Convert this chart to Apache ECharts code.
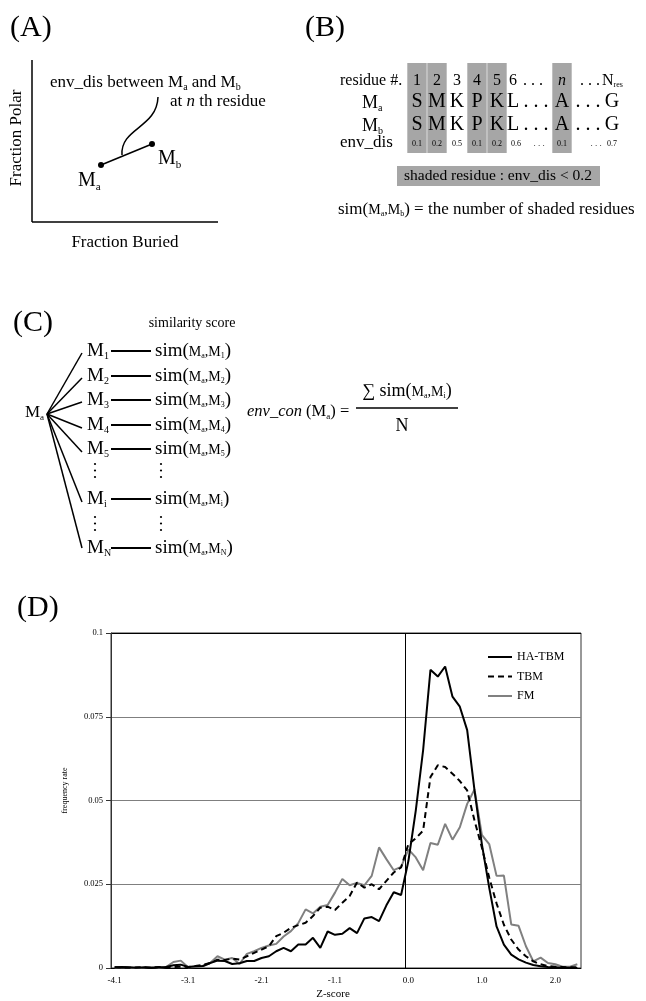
<!DOCTYPE html>
<html>
<head>
<meta charset="utf-8">
<title>env_con figure</title>
<script src="https://cdn.jsdelivr.net/npm/echarts@6.0.0/dist/echarts.min.js"></script>
<style>
  body { margin: 0; background: #fff; }
  #main { width: 646px; height: 1001px; }
</style>
</head>
<body>
<div id="main"></div>
<script>
// ---- panel (D) data ----
// z-score bins (only every 10th one is labelled on the axis)
const zScore = [
  '-4.1','-4.0','-3.9','-3.8','-3.7','-3.6','-3.5','-3.4','-3.3','-3.2',
  '-3.1','-3.0','-2.9','-2.8','-2.7','-2.6','-2.5','-2.4','-2.3','-2.2',
  '-2.1','-2.0','-1.9','-1.8','-1.7','-1.6','-1.5','-1.4','-1.3','-1.2',
  '-1.1','-1.0','-0.9','-0.8','-0.7','-0.6','-0.5','-0.4','-0.3','-0.2',
  '0.0','0.1','0.2','0.3','0.4','0.5','0.6','0.7','0.8','0.9',
  '1.0','1.1','1.2','1.3','1.4','1.5','1.6','1.7','1.8','1.9',
  '2.0','2.1','2.2','2.3'
];
const haTbm = [
  0.0002,0.0003,0.0002,0.0001,0.0002,0.0000,0.0002,0.0003,0.0008,0.0010,
  0.0003,0.0005,0.0006,0.0015,0.0022,0.0021,0.0012,0.0014,0.0021,0.0021,
  0.0030,0.0035,0.0050,0.0060,0.0050,0.0070,0.0070,0.0090,0.0060,0.0109,
  0.0099,0.0102,0.0119,0.0104,0.0148,0.0152,0.0140,0.0187,0.0226,0.0218,
  0.0320,0.0470,0.0650,0.0890,0.0870,0.0900,0.0810,0.0780,0.0710,0.0530,
  0.0370,0.0240,0.0124,0.0070,0.0040,0.0026,0.0016,0.0009,0.0005,0.0003,
  0.0002,0.0001,0.0001,0.0000
];
const tbm = [
  0.0002,0.0002,0.0001,0.0002,0.0002,0.0001,0.0003,0.0002,0.0003,0.0004,
  0.0003,0.0006,0.0009,0.0015,0.0025,0.0024,0.0028,0.0025,0.0035,0.0045,
  0.0055,0.0065,0.0095,0.0105,0.0120,0.0128,0.0135,0.0155,0.0180,0.0183,
  0.0173,0.0195,0.0215,0.0255,0.0240,0.0250,0.0235,0.0260,0.0285,0.0300,
  0.0370,0.0387,0.0410,0.0570,0.0605,0.0600,0.0580,0.0558,0.0530,0.0440,
  0.0360,0.0270,0.0193,0.0129,0.0085,0.0055,0.0035,0.0020,0.0011,0.0006,
  0.0004,0.0003,0.0002,0.0002
];
const fm = [
  0.0001,0.0002,0.0001,0.0000,0.0001,0.0003,0.0001,0.0003,0.0018,0.0022,
  0.0002,0.0003,0.0005,0.0015,0.0035,0.0025,0.0030,0.0012,0.0042,0.0050,
  0.0060,0.0067,0.0072,0.0094,0.0110,0.0134,0.0175,0.0163,0.0183,0.0188,
  0.0225,0.0266,0.0247,0.0254,0.0247,0.0275,0.0360,0.0325,0.0292,0.0302,
  0.0354,0.0330,0.0292,0.0373,0.0368,0.0430,0.0383,0.0420,0.0490,0.0533,
  0.0397,0.0370,0.0275,0.0276,0.0130,0.0126,0.0065,0.0020,0.0031,0.0015,
  0.0011,0.0004,0.0004,0.0011
];
const yMax = 0.1;
const yStep = 0.025;

// ---- panel (B) alignment example ----
const resNo  = ['1', '2', '3', '4', '5', '6'];
const seqA   = ['S', 'M', 'K', 'P', 'K', 'L'];
const envDis = ['0.1', '0.2', '0.5', '0.1', '0.2', '0.6'];
const shadedCols = [0, 1, 3, 4];

// ---- panel (C) members ----
const members = ['1', '2', '3', '4', '5', 'i', 'N'];

const SERIF = '"Liberation Serif", "Times New Roman", serif';
const ctx = document.createElement('canvas').getContext('2d');
const g = [];

function fontOf(size, italic) {
  return (italic ? 'italic ' : '') + size + 'px ' + SERIF;
}

// writes a line of text runs on baseline y, 's' = subscript, 'i' = italic
function runs(x, y, parts, align) {
  const items = parts.map(p => {
    const f = fontOf(p[1], p[2] === 'i');
    ctx.font = f;
    return { text: p[0], font: f, size: p[1], sub: p[2] === 's', w: ctx.measureText(p[0]).width };
  });
  const total = items.reduce((s, it) => s + it.w, 0);
  let cx = align === 'center' ? x - total / 2 : (align === 'right' ? x - total : x);
  items.forEach(it => {
    const base = y + (it.sub ? Math.round(it.size * 0.3) : 0);
    g.push({
      type: 'text', x: cx, y: base - it.size * 0.34, silent: true,
      style: { text: it.text, font: it.font, fill: '#000', align: 'left', verticalAlign: 'middle' }
    });
    cx += it.w;
  });
}

function seg(x1, y1, x2, y2, w) {
  g.push({ type: 'line', silent: true, shape: { x1, y1, x2, y2 }, style: { stroke: '#000', lineWidth: w || 1.5 } });
}

function dot(cx, cy, r) {
  g.push({ type: 'circle', silent: true, shape: { cx, cy, r }, style: { fill: '#000' } });
}

// panel letters
runs(10, 38, [['(A)', 30]]);
runs(305, 38, [['(B)', 30]]);
runs(13, 333, [['(C)', 30]]);
runs(17, 618, [['(D)', 30]]);

// ---- (A) ----
seg(32, 60, 32, 222);
seg(32, 222, 218, 222);
g.push({
  type: 'text', x: 17, y: 138, rotation: Math.PI / 2, silent: true,
  style: { text: 'Fraction Polar', font: fontOf(17), fill: '#000', align: 'center', verticalAlign: 'middle' }
});
runs(125, 248, [['Fraction Buried', 17]], 'center');
seg(101, 165, 152, 144);
dot(101, 165, 3);
dot(152, 144, 3);
g.push({
  type: 'bezierCurve', silent: true,
  shape: { x1: 122, y1: 155, cpx1: 120, cpy1: 128, cpx2: 157, cpy2: 128, x2: 158, y2: 97 },
  style: { stroke: '#000', lineWidth: 1.5, fill: 'none' }
});
runs(50, 88, [['env_dis between M', 17], ['a', 10, 's'], [' and M', 17], ['b', 10, 's']]);
runs(170, 107, [['at ', 17], ['n', 17, 'i'], [' th residue', 17]]);
runs(78, 188, [['M', 20], ['a', 11, 's']]);
runs(158, 166, [['M', 20], ['b', 11, 's']]);

// ---- (B) ----
const colX = [417, 437, 457, 477, 497, 513];
const nX = 562, lastX = 612;
shadedCols.map(i => colX[i]).concat([nX]).forEach(cx => {
  g.push({ type: 'rect', silent: true, shape: { x: cx - 9.7, y: 63, width: 19.4, height: 90 }, style: { fill: '#a6a6a6' } });
});
runs(340, 86, [['residue #.', 16]]);
runs(362, 109, [['M', 18], ['a', 10, 's']]);
runs(362, 132, [['M', 18], ['b', 10, 's']]);
runs(340, 148, [['env_dis', 17]]);
resNo.forEach((t, i) => runs(colX[i], 86, [[t, 16]], 'center'));
runs(533, 86, [['. . .', 16]], 'center');
runs(nX, 86, [['n', 16, 'i']], 'center');
runs(590, 86, [['. . .', 16]], 'center');
runs(602, 86, [['N', 16], ['res', 8, 's']]);
[109, 132].forEach(by => {
  seqA.forEach((t, i) => runs(colX[i], by, [[t, 20]], 'center'));
  runs(536, by, [['. . .', 20]], 'center');
  runs(nX, by, [['A', 20]], 'center');
  runs(588, by, [['. . .', 20]], 'center');
  runs(lastX, by, [['G', 20]], 'center');
});
envDis.forEach((t, i) => runs(colX[i] + (i === 5 ? 3 : 0), 147, [[t, 8]], 'center'));
runs(539, 147, [['. . .', 9]], 'center');
runs(nX, 147, [['0.1', 8]], 'center');
runs(596, 147, [['. . .', 9]], 'center');
runs(lastX, 147, [['0.7', 8]], 'center');
g.push({ type: 'rect', silent: true, shape: { x: 397, y: 166, width: 203, height: 20 }, style: { fill: '#a6a6a6' } });
runs(498, 181, [['shaded residue : env_dis < 0.2', 15.5]], 'center');
runs(338, 215, [['sim(', 17], ['M', 14], ['a', 8, 's'], [',M', 14], ['b', 8, 's'], [') = the number of shaded residues', 17]]);

// ---- (C) ----
runs(192, 328, [['similarity score', 14]], 'center');
runs(25, 418, [['M', 17], ['a', 9, 's']]);
const labY = [357, 382, 406, 431, 455, 505, 554];
const fanY = [353, 378, 402, 428, 452, 502, 548];
members.forEach((m, k) => {
  seg(47, 414, 82, fanY[k]);
  runs(87, labY[k], [['M', 19], [m, 10, 's']]);
  seg(111, labY[k] - 6, 151, labY[k] - 6, 2);
  runs(155, labY[k], [['sim(', 19], ['M', 14], ['a', 8, 's'], [',M', 14], [m, 8, 's'], [')', 19]]);
});
[95, 161].forEach(cx => {
  [464, 470.5, 477, 517, 523.5, 530].forEach(cy => dot(cx, cy, 1.1));
});
runs(247, 417, [['env_con', 16.5, 'i'], [' (M', 16.5], ['a', 9, 's'], [') =', 16.5]]);
seg(356, 408, 458, 408);
runs(407, 397, [['\u2211 sim(', 18], ['M', 14], ['a', 8, 's'], [',M', 14], ['i', 8, 's'], [')', 18]], 'center');
runs(402, 432, [['N', 18]], 'center');

// ---- (D) chart ----
const zeroIdx = zScore.indexOf('0.0');
const chart = echarts.init(document.getElementById('main'), null, { renderer: 'canvas' });
const option = {
  animation: false,
  backgroundColor: '#fff',
  textStyle: { fontFamily: SERIF },
  grid: { left: 111, top: 633, width: 470, height: 339, show: true, borderColor: '#333', borderWidth: 1 },
  legend: {
    orient: 'vertical',
    left: 487,
    top: 651,
    padding: 0,
    itemWidth: 24,
    itemHeight: 12,
    itemGap: 7.5,
    itemStyle: { opacity: 0 },
    textStyle: { fontSize: 12, color: '#000', fontFamily: SERIF },
    data: ['HA-TBM', 'TBM', 'FM']
  },
  xAxis: [
    {
      type: 'category',
      data: zScore,
      boundaryGap: true,
      name: 'Z-score',
      nameLocation: 'middle',
      nameGap: 21,
      nameTextStyle: { fontSize: 11, color: '#000', fontFamily: SERIF, padding: [0, 26, 0, 0] },
      axisLine: { lineStyle: { color: '#000', width: 1 } },
      axisTick: { interval: 4, length: 5, lineStyle: { color: '#000' } },
      axisLabel: { interval: 9, fontSize: 9, color: '#000', margin: 8, fontFamily: SERIF },
      splitLine: { show: false }
    },
    {
      // bin-edge scale, only used to put the 0.0 line on the edge of its bin
      type: 'value', min: 0, max: zScore.length, show: false
    }
  ],
  yAxis: {
    type: 'value',
    min: 0,
    max: yMax,
    interval: yStep,
    name: 'frequency rate',
    nameLocation: 'middle',
    nameRotate: 90,
    nameGap: 42,
    nameTextStyle: { fontSize: 8, color: '#000', fontFamily: SERIF, padding: [0, 0, 0, 20] },
    axisLine: { show: true, lineStyle: { color: '#333', width: 1 } },
    axisTick: { show: true, length: 5, lineStyle: { color: '#333' } },
    axisLabel: { fontSize: 8.5, color: '#000', margin: 8, fontFamily: SERIF },
    splitLine: { lineStyle: { color: ['#7f7f7f', '#7f7f7f', '#7f7f7f', '#7f7f7f', '#000'], width: 1 } }
  },
  series: [
    {
      name: 'HA-TBM', type: 'line', data: haTbm, symbol: 'none', z: 3,
      lineStyle: { color: '#000', width: 2 }, itemStyle: { color: '#000' }
    },
    {
      name: 'TBM', type: 'line', data: tbm, symbol: 'none', z: 3,
      lineStyle: { color: '#000', width: 2, type: [6, 4] }, itemStyle: { color: '#000' }
    },
    {
      name: 'FM', type: 'line', data: fm, symbol: 'none', z: 2,
      lineStyle: { color: '#808080', width: 2 }, itemStyle: { color: '#808080' }
    },
    {
      name: 'zero', type: 'line', xAxisIndex: 1, data: [], symbol: 'none',
      markLine: {
        silent: true, symbol: 'none', label: { show: false },
        lineStyle: { color: '#000', type: 'solid', width: 1 },
        data: [{ xAxis: zeroIdx }]
      }
    }
  ],
  graphic: { elements: g }
};
chart.setOption(option);
</script>
</body>
</html>
